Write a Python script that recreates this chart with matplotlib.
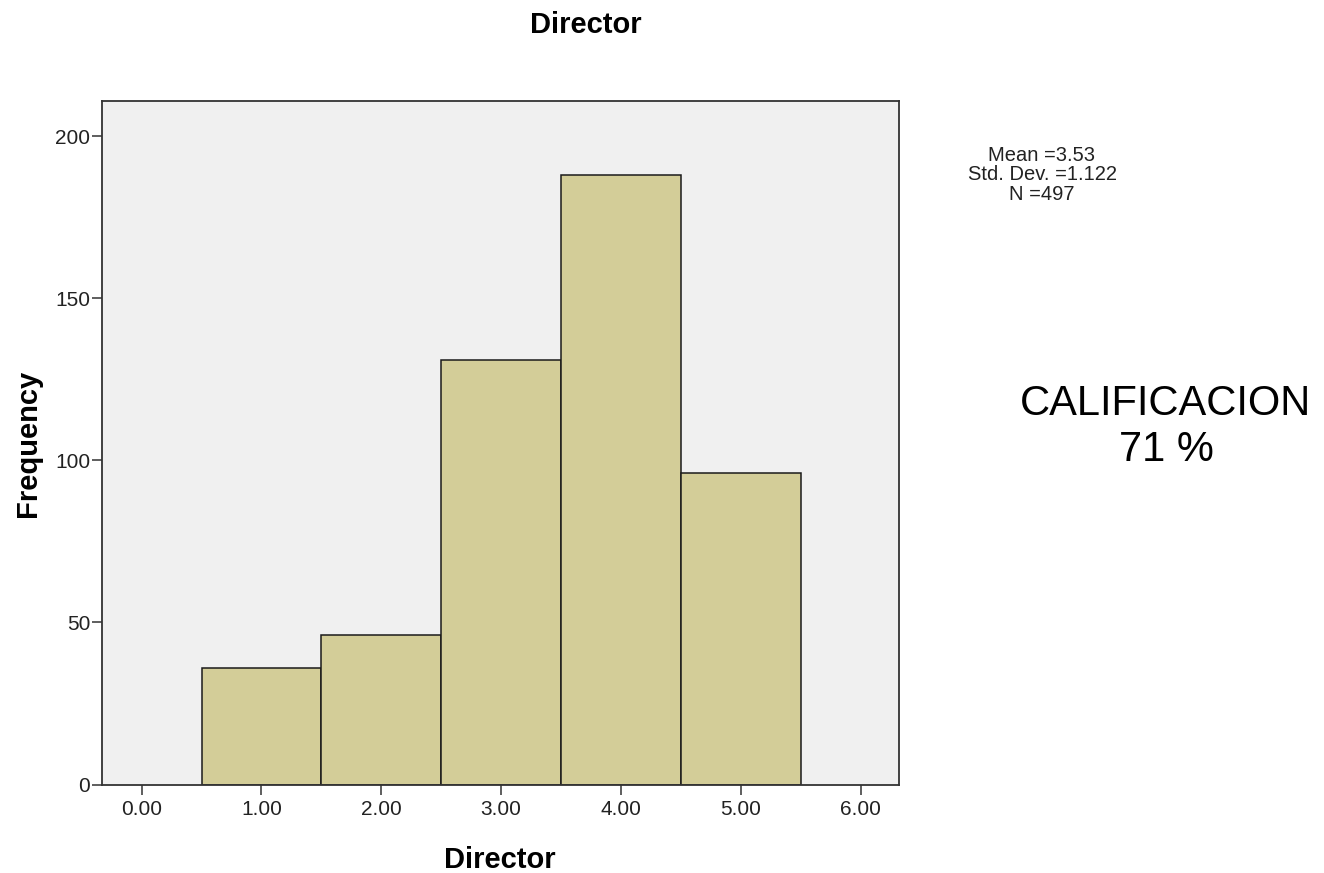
import matplotlib
matplotlib.use("Agg")
import matplotlib.pyplot as plt

# Data
bin_centers = [1, 2, 3, 4, 5]
frequencies = [36, 46, 131, 188, 96]
x_ticks = [0, 1, 2, 3, 4, 5, 6]
x_tick_labels = ["0.00", "1.00", "2.00", "3.00", "4.00", "5.00", "6.00"]
y_ticks = [0, 50, 100, 150, 200]
title = "Director"
x_label = "Director"
y_label = "Frequency"
stats_text = "Mean =3.53\nStd. Dev. =1.122\nN =497"
note_text = "CALIFICACION\n71 %"

plt.rcParams['font.family'] = ['Liberation Sans', 'DejaVu Sans']

W, H = 1324, 873
fig = plt.figure(figsize=(W / 100, H / 100), dpi=100)
fig.patch.set_facecolor("white")

left, right, top, bottom = 102, 899, 100.7, 784.5
ax = fig.add_axes([left / W, (H - bottom) / H, (right - left) / W, (bottom - top) / H])
ax.set_facecolor("#F0F0F0")

ax.bar(bin_centers, frequencies, width=1.0, color="#D3CD98",
       edgecolor="#1a1a1a", linewidth=1.1, zorder=2)

ax.set_xlim(-0.331, 6.32)
ax.set_ylim(0, 211)
ax.set_xticks(x_ticks)
ax.set_xticklabels(x_tick_labels)
ax.set_yticks(y_ticks)
ax.tick_params(axis="both", direction="out", length=7.5, width=1.1,
               color="#333333", labelsize=15, labelcolor="#222222", pad=4)
ax.tick_params(axis="y", pad=1)
for s in ax.spines.values():
    s.set_linewidth(1.3)
    s.set_color("#333333")

fig.text(586 / W, 1 - 25 / H, title, ha="center", va="center",
         fontsize=21, fontweight="bold", color="black")
fig.text(500 / W, 1 - 860 / H, x_label, ha="center", va="center",
         fontsize=21, fontweight="bold", color="black")
fig.text(28 / W, 1 - 443 / H, y_label, ha="center", va="center",
         rotation=90, fontsize=21, fontweight="bold", color="black")

fig.text(1042 / W, 1 - 175 / H, stats_text, ha="center", va="center",
         fontsize=14.5, color="#222222", linespacing=1.03)
fig.text(1166 / W, 1 - 427 / H, note_text, ha="center", va="center",
         fontsize=30, color="black", linespacing=1.2)

fig.savefig("out.png", dpi=100, facecolor="white")
